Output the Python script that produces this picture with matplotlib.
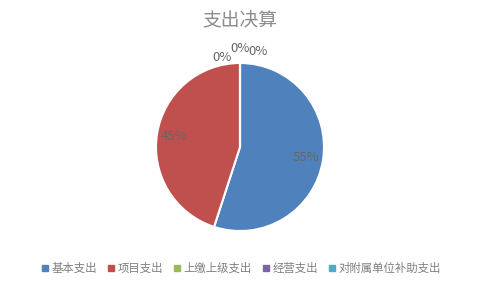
import matplotlib
matplotlib.use("Agg")
from matplotlib import pyplot as plt
from matplotlib.lines import Line2D

plt.rcParams['font.family'] = ['Noto Sans CJK SC', 'DejaVu Sans']

# data
categories = ['基本支出', '项目支出', '上缴上级支出', '经营支出', '对附属单位补助支出']
values = [55, 45, 0, 0, 0]
colors = ['#4f81bd', '#c0504d', '#9bbb59', '#8064a2', '#4bacc6']
title = '支出决算'

text_color = '#7f7f7f'

fig = plt.figure(figsize=(4.81, 2.89), dpi=100)
# pie box: centre (240,147) px, radius 84 px
ax = fig.add_axes([(240 - 84) / 481, 1 - (147 + 84) / 289, 168 / 481, 168 / 289])

wedges, texts, autotexts = ax.pie(values, colors=colors, startangle=90, counterclock=False,
                                  autopct=lambda p: '%d%%' % round(p) if p > 0 else '',
                                  pctdistance=0.8,
                                  wedgeprops=dict(edgecolor='white', linewidth=1.5),
                                  textprops=dict(color='#666666', fontsize=9.5))
ax.set_xlim(-1, 1)
ax.set_ylim(-1, 1)
ax.set_aspect('equal')

# the zero slices stack up at the top
zero_pos = [(-0.21, 1.07), (0.0, 1.17), (0.22, 1.14)]
k = 0
for v in values:
    if v == 0:
        x, y = zero_pos[k]
        ax.text(x, y, '0%', ha='center', va='center', color='#666666', fontsize=9.5, clip_on=False)
        k += 1

fig.text(240 / 481, 1 - 21 / 289, title, ha='center', va='center', fontsize=13.5, color='#8c8c8c')

handles = [Line2D([], [], marker='s', linestyle='', markersize=5, color=c) for c in colors]
fig.legend(handles, categories, loc='center', bbox_to_anchor=(240 / 481, 1 - 268 / 289), ncol=5,
           frameon=False, fontsize=8.2, labelcolor=text_color, handletextpad=0.1,
           columnspacing=0.7, handlelength=1.0)

fig.savefig('out.png', dpi=100)
